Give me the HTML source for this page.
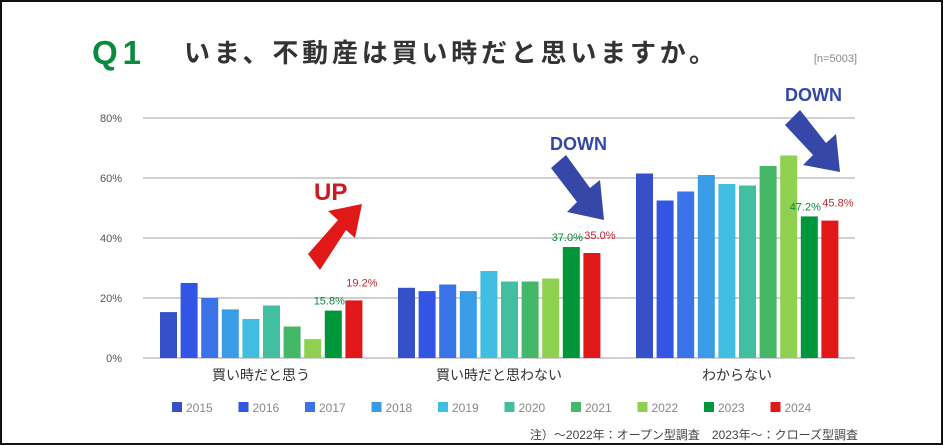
<!DOCTYPE html>
<html><head><meta charset="utf-8"><style>
body{margin:0;background:#fff;}
#wrap{position:relative;width:939px;height:441px;border:2px solid #111;overflow:hidden;background:#fff;}
svg text{font-family:"Liberation Sans","Noto Sans CJK JP",sans-serif;}
</style></head><body>
<div id="wrap">
<svg id="chart" width="939" height="441"></svg>
</div>
<script>
const categories = ["買い時だと思う","買い時だと思わない","わからない"];
const years = ["2015","2016","2017","2018","2019","2020","2021","2022","2023","2024"];
const colors = ["#3550c8","#3355e6","#3a73e8","#3a9be6","#40bde0","#40c0a0","#44b866","#90d050","#00963c","#e01818"];
const values = [
  [15.3,25.0,20.0,16.2,13.0,17.5,10.5,6.3,15.8,19.2],
  [23.4,22.3,24.5,22.3,29.0,25.5,25.5,26.5,37.0,35.0],
  [61.5,52.5,55.5,61.0,58.0,57.5,64.0,67.5,47.2,45.8]
];
const ticks = [0,20,40,60,80];
const ns="http://www.w3.org/2000/svg";
const svg=document.getElementById('chart');
function el(t,a,txt){const e=document.createElementNS(ns,t);for(const k in a)e.setAttribute(k,a[k]);if(txt!==undefined)e.textContent=txt;svg.appendChild(e);return e;}
const y0=356, pxPer=3.0, xL=141, xR=853;
const y=v=>y0-v*pxPer;
const groupStart=i=>158+i*238;
const barX=(g,s)=>groupStart(g)+s*20.6;
let t=el('text',{x:90,y:62,'font-size':33,'font-weight':'bold',fill:'#0a8a3c','letter-spacing':5},'Q1');

t=el('text',{x:182,y:60,'font-size':26,'font-weight':'bold',fill:'#333','letter-spacing':3.8},'いま、不動産は買い時だと思いますか。');

t=el('text',{x:855,y:60,'font-size':11,fill:'#888','text-anchor':'end'},'[n=5003]');

ticks.forEach(v=>{
  const g=el('line',{x1:xL,x2:xR,y1:y(v),y2:y(v),stroke:'#d0d0d0','stroke-width':2});
  
  const l=el('text',{x:120,y:y(v)+4,'font-size':11,fill:'#555','text-anchor':'end'},v+'%');
  
});
values.forEach((row,g)=>{
  row.forEach((v,s)=>{
    const r=el('rect',{x:barX(g,s),y:y(v),width:17,height:v*pxPer,fill:colors[s]});
    
    
  });
  const c=el('text',{x:groupStart(g)+101,y:378,'font-size':14,fill:'#333','text-anchor':'middle'},categories[g]);
  
  [[8,'#0a8a3c'],[9,'#c0282e']].forEach(([s,col])=>{
    const off=s==8?-4:8;
    const lb=el('text',{x:barX(g,s)+8.5+off,y:y(row[s])-(s==8?6:14),'font-size':11,fill:col,'text-anchor':'middle'},row[s].toFixed(1)+'%');
    
  });
});
let a=el('polygon',{points:'306,252 336,218 326,209 360,202 353,236 344,228 318,268',fill:'#e01818'});

t=el('text',{x:312,y:198,'font-size':24,'font-weight':'bold',fill:'#d01820'},'UP');

a=el('polygon',{points:'549,166 564,153 588,186 598,178 602,218 565,210 575,200',fill:'#3548a8'});

t=el('text',{x:548,y:148,'font-size':18,'font-weight':'bold',fill:'#3548a8'},'DOWN');

a=el('polygon',{points:'783,123 798,108 824,141 834,132 838,170 801,163 811,153',fill:'#3548a8'});

t=el('text',{x:783,y:99,'font-size':18,'font-weight':'bold',fill:'#3548a8'},'DOWN');

years.forEach((yr,i)=>{
  const lx=170+i*66.5;
  const r=el('rect',{x:lx,y:400,width:10,height:10,fill:colors[i]});
  
  const l=el('text',{x:lx+14,y:410,'font-size':12,fill:'#888'},yr);
  
});
t=el('text',{x:856,y:437,'font-size':12,fill:'#444','text-anchor':'end'},'注）～2022年：オープン型調査　2023年～：クローズ型調査');

</script>
</body></html>
